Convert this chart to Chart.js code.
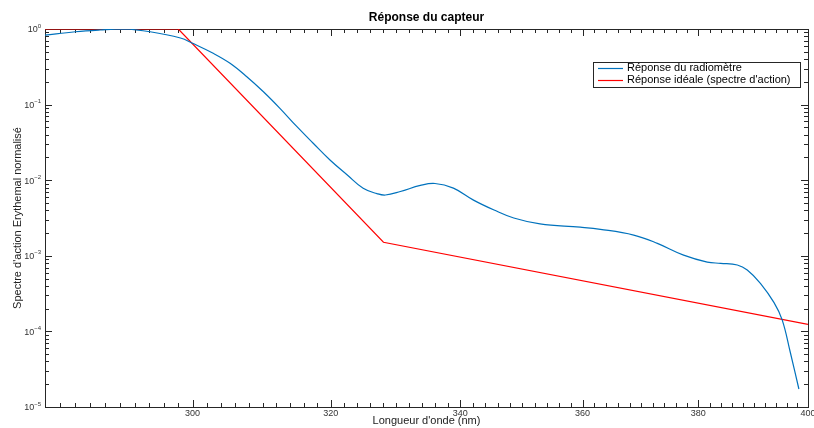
<!DOCTYPE html>
<html>
<head>
<meta charset="utf-8">
<script src="https://cdn.jsdelivr.net/npm/chart.js@4.4.0/dist/chart.umd.min.js"></script>
<style>
html, body { margin: 0; padding: 0; background: #fff; }
</style>
</head>
<body>
<canvas id="chart" width="814" height="428"></canvas>
<script>
// blue curve: radiometer response
const radioNm = [280, 284, 287.3, 290.5, 294.1, 298.3, 300, 302.9, 305.3, 307.7, 310.1, 312.5, 315.0, 317.4, 319.9, 322.5, 324.9, 327.0, 328.3, 330.6, 333.7, 336.0, 338.9, 342.1, 345.4, 348.6, 352.9, 359.6, 363.0, 368.7, 372.8, 377.4, 381.6, 384.0, 387.0, 388.8, 391.2, 393.7, 395.2, 396.7, 398.3];
const radioVal = [0.83, 0.92, 0.97, 1.0, 0.92, 0.76, 0.647, 0.477, 0.352, 0.234, 0.148, 0.0893, 0.0510, 0.0308, 0.0185, 0.0117, 0.00781, 0.00665, 0.00637, 0.00708, 0.00853, 0.00905, 0.00785, 0.00545, 0.00403, 0.00316, 0.00264, 0.00239, 0.00224, 0.00188, 0.00146, 0.00102, 0.000826, 0.000796, 0.000756, 0.000649, 0.000433, 0.000240, 0.000142, 0.0000530, 0.0000173];

// red curve: ideal response (action spectrum)
const idealNm = [280, 298, 328, 400];
const idealVal = [1, 1, 0.00151, 0.000124];

const xTicks = [300, 320, 340, 360, 380, 400];
const yExps = [-5, -4, -3, -2, -1, 0];

const labels = ['Réponse du radiomètre', "Réponse idéale (spectre d'action)"];
const chartTitle = 'Réponse du capteur';
const xTitle = "Longueur d'onde (nm)";
const yTitle = "Spectre d'action Erythemal normalisé";

const FONT = "'Liberation Sans', Arial, Helvetica, sans-serif";
Chart.defaults.font.family = FONT;

function pts(xs, ys) {
  return xs.map((v, i) => ({x: v, y: ys[i]}));
}

const matlabAxes = {
  id: 'matlabAxes',
  beforeDatasetsDraw(chart) {
    const {ctx, chartArea: a, scales: {x, y}} = chart;
    ctx.save();
    ctx.strokeStyle = '#262626';
    ctx.lineWidth = 1;
    ctx.strokeRect(a.left + 0.5, a.top + 0.5, a.right - a.left, a.bottom - a.top);
    ctx.beginPath();
    // x ticks, minor every 2 nm
    for (let v = 282; v < 400; v += 2) {
      const len = xTicks.includes(v) ? 7 : 4;
      const px = Math.round(x.getPixelForValue(v)) + 0.5;
      ctx.moveTo(px, a.bottom); ctx.lineTo(px, a.bottom - len);
      ctx.moveTo(px, a.top); ctx.lineTo(px, a.top + len);
    }
    // y ticks
    yExps.forEach(e => {
      for (let m = 1; m <= 9; m++) {
        const v = m * Math.pow(10, e);
        if (v > 1) break;
        const len = m === 1 ? 7 : 4;
        const py = Math.round(y.getPixelForValue(v)) + 0.5;
        ctx.moveTo(a.left, py); ctx.lineTo(a.left + len, py);
        ctx.moveTo(a.right, py); ctx.lineTo(a.right - len, py);
      }
    });
    ctx.stroke();
    ctx.restore();
  },
  afterDraw(chart) {
    const {ctx, chartArea: a, scales: {y}} = chart;
    ctx.save();
    // y tick labels 10^n
    ctx.fillStyle = '#333';
    ctx.textBaseline = 'middle';
    yExps.forEach(e => {
      const py = y.getPixelForValue(Math.pow(10, e));
      const sup = String(e).replace('-', '\u2212');
      ctx.font = '6px ' + FONT;
      const sw = ctx.measureText(sup).width;
      ctx.textAlign = 'left';
      ctx.fillText(sup, 41 - sw, py - 3);
      ctx.font = '9px ' + FONT;
      ctx.textAlign = 'right';
      ctx.fillText('10', 41 - sw, py + 1);
    });
    // title
    ctx.fillStyle = '#000';
    ctx.font = 'bold 12px ' + FONT;
    ctx.textAlign = 'center';
    ctx.fillText(chartTitle, (a.left + a.right) / 2, 18);
    // legend
    const lx = 593, ly = 62, lw = 207, lh = 25;
    ctx.fillStyle = '#fff';
    ctx.fillRect(lx, ly, lw, lh);
    ctx.strokeStyle = '#262626';
    ctx.lineWidth = 1;
    ctx.strokeRect(lx + 0.5, ly + 0.5, lw, lh);
    ctx.font = '11px ' + FONT;
    ctx.textAlign = 'left';
    chart.data.datasets.forEach((ds, i) => {
      const ry = ly + 5.5 + i * 12.5;
      ctx.strokeStyle = ds.borderColor;
      ctx.lineWidth = 1.2;
      ctx.beginPath();
      ctx.moveTo(598, Math.round(ry) + 0.5);
      ctx.lineTo(623, Math.round(ry) + 0.5);
      ctx.stroke();
      ctx.fillStyle = '#000';
      ctx.fillText(ds.label, 627, ry);
    });
    ctx.restore();
  }
};

const ctx = document.getElementById('chart').getContext('2d');
const myChart = new Chart(ctx, {
  type: 'line',
  data: {
    datasets: [{
      label: labels[0],
      data: pts(radioNm, radioVal),
      borderColor: '#0072BD',
      borderWidth: 1.2,
      pointRadius: 0,
      tension: 0.4
    }, {
      label: labels[1],
      data: pts(idealNm, idealVal),
      borderColor: '#FF0000',
      borderWidth: 1.2,
      pointRadius: 0,
      tension: 0
    }]
  },
  options: {
    responsive: false,
    animation: false,
    layout: { padding: { top: 29, right: 6, left: 0, bottom: 0 } },
    plugins: {
      legend: { display: false },
      title: { display: false },
      tooltip: { enabled: false }
    },
    scales: {
      x: {
        type: 'logarithmic',
        min: 280,
        max: 400,
        grid: { display: false, drawTicks: false },
        border: { display: false },
        afterBuildTicks: s => { s.ticks = xTicks.map(v => ({value: v})); },
        ticks: {
          autoSkip: false,
          maxRotation: 0,
          padding: 1,
          color: '#333',
          font: { size: 9 },
          callback: v => String(v)
        },
        title: {
          display: true,
          text: xTitle,
          color: '#222',
          font: { size: 11 },
          padding: { top: 0, bottom: 0 }
        },
        afterFit: s => { s.height = 21; s.paddingLeft = 0; s.paddingRight = 0; }
      },
      y: {
        type: 'logarithmic',
        min: 1e-5,
        max: 1,
        grid: { display: false, drawTicks: false },
        border: { display: false },
        ticks: { display: false },
        title: {
          display: true,
          text: yTitle,
          color: '#222',
          font: { size: 11 },
          padding: { top: 11, bottom: 0 }
        },
        afterFit: s => { s.width = 45; s.paddingTop = 0; s.paddingBottom = 0; }
      }
    }
  },
  plugins: [matlabAxes]
});
</script>
</body>
</html>
